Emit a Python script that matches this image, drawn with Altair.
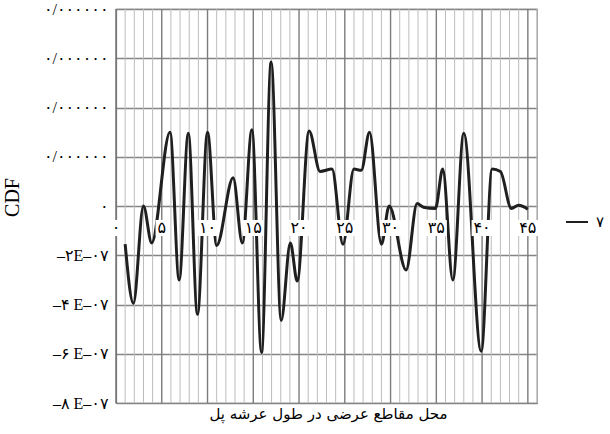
import json
import altair as alt
import pandas as pd

# CDF along the deck for cross-section set 7 (positions in section index units)
section_pos = [1.0, 1.9, 3.0, 3.9, 5.9, 6.9, 7.9, 8.9, 10.0, 11.0,
               12.8, 13.8, 14.85, 15.9, 16.95, 18.05, 19.05, 19.8, 21.1, 22.3,
               23.6, 24.8, 26.0, 26.8, 27.7, 29.0, 29.85, 31.7, 32.9, 33.6,
               34.9, 35.7, 36.8, 38.0, 39.9, 41.1, 42.0, 43.2, 44.0, 45.0]
cdf_values = [-1.55e-7, -3.95e-7, 0.0, -1.5e-7, 3.0e-7, -3.0e-7, 2.95e-7, -4.4e-7, 3.0e-7, -1.6e-7,
              1.15e-7, -1.5e-7, 3.1e-7, -5.95e-7, 5.85e-7, -4.65e-7, -1.5e-7, -3.05e-7, 3.05e-7, 1.4e-7,
              1.5e-7, -1.55e-7, 1.5e-7, 1.45e-7, 3.0e-7, -1.55e-7, 0.0, -2.6e-7, 0.1e-7, -0.05e-7,
              -0.1e-7, 1.5e-7, -3.0e-7, 2.95e-7, -5.9e-7, 1.5e-7, 1.4e-7, -0.1e-7, 0.03e-7, -0.13e-7]
series_name = "۷"

x_tick_values = [0, 5, 10, 15, 20, 25, 30, 35, 40, 45]
x_tick_labels = ["۰", "۵", "۱۰", "۱۵", "۲۰", "۲۵", "۳۰", "۳۵", "۴۰", "۴۵"]
x_grid_values = list(range(0, 47))

y_tick_values = [-8e-7, -6e-7, -4e-7, -2e-7, 0.0, 2e-7, 4e-7, 6e-7, 8e-7]
y_tick_labels = ["–۸ E–۰۷", "–۶ E–۰۷", "–۴ E–۰۷", "–۲E–۰۷", "۰",
                 "۰/۰۰۰۰۰۰", "۰/۰۰۰۰۰۰", "۰/۰۰۰۰۰۰", "۰/۰۰۰۰۰۰"]

x_title = "محل مقاطع عرضی در طول عرشه پل"
y_title = "CDF"

SERIF = "Liberation Serif, DejaVu Serif, DejaVu Sans"

curve = pd.DataFrame({"pos": section_pos, "cdf": cdf_values, "series": series_name})
ticks = pd.DataFrame({"pos": x_tick_values, "label": x_tick_labels})
grid = pd.DataFrame({"pos": x_grid_values})

x_scale = alt.Scale(domain=[0, 46], nice=False, zero=False)
y_scale = alt.Scale(domain=[-8e-7, 8e-7], nice=False)

y_label_expr = json.dumps(y_tick_labels, ensure_ascii=False) + "[round(datum.value / 2e-7) + 4]"

# vertical grid: one line per section, darker every fifth
vgrid = alt.Chart(grid).mark_rule().encode(
    x=alt.X("pos:Q", scale=x_scale, axis=alt.Axis(
        labels=False, ticks=False, domain=False, grid=False,
        title=x_title, titleFont="DejaVu Sans", titleFontSize=15,
        titleFontWeight="normal", titleColor="#000",
        titleX=212, titleY=10, titleBaseline="middle",
    )),
    y=alt.value(0),
    y2=alt.value(394),
    color=alt.condition("datum.pos % 5 === 0", alt.value("#7c7c7c"), alt.value("#bcbcbc")),
    strokeWidth=alt.condition("datum.pos % 5 === 0", alt.value(1.4), alt.value(1.0)),
)

line = alt.Chart(curve).mark_line(
    interpolate="monotone", strokeWidth=3, strokeJoin="round"
).encode(
    x=alt.X("pos:Q", scale=x_scale),
    y=alt.Y("cdf:Q", scale=y_scale, axis=alt.Axis(
        values=y_tick_values, labelExpr=y_label_expr,
        ticks=False, domain=True, domainColor="#6a6a6a", domainWidth=1.2,
        grid=True, gridColor="#858585", gridWidth=1.4,
        labelFont=SERIF, labelFontSize=16, labelColor="#000", labelPadding=8,
        title=y_title, titleFont=SERIF, titleFontSize=20, titleFontWeight="normal",
        titleColor="#000", titleAngle=-90, titleX=-104, titleY=188,
        titleBaseline="middle",
    )),
    color=alt.Color("series:N", scale=alt.Scale(range=["#1f1f1f"]), legend=alt.Legend(
        title=None, orient="none", legendX=449, legendY=201,
        symbolType="stroke", symbolSize=484, symbolStrokeWidth=2,
        labelFont="DejaVu Sans", labelFontSize=15, labelColor="#000", labelOffset=7,
        padding=0,
    )),
)

# white label boxes sitting just under the zero line
boxes = alt.Chart(ticks).mark_rect(color="white", yOffset=14, y2Offset=30).transform_calculate(
    x_lo="datum.pos - (length(datum.label) * 8.5 + 4) / 2 / 9.15",
    x_hi="datum.pos + (length(datum.label) * 8.5 + 4) / 2 / 9.15",
).encode(
    x=alt.X("x_lo:Q", scale=x_scale),
    x2="x_hi:Q",
    y=alt.datum(0, scale=y_scale),
    y2=alt.datum(0),
)

labels = alt.Chart(ticks).mark_text(
    font="DejaVu Sans", fontSize=16, color="#000", baseline="middle", dy=22
).encode(
    x=alt.X("pos:Q", scale=x_scale),
    y=alt.datum(0, scale=y_scale),
    text="label:N",
)

chart = alt.layer(vgrid, line, boxes, labels).properties(
    width=421, height=394,
    autosize=alt.AutoSizeParams(type="none"),
    padding={"left": 116, "top": 9, "right": 73, "bottom": 31},
    background="white",
).configure_view(stroke="#8c8c8c", strokeWidth=1.2)

chart.save("out.html", embed_options={"renderer": "svg", "actions": False})
